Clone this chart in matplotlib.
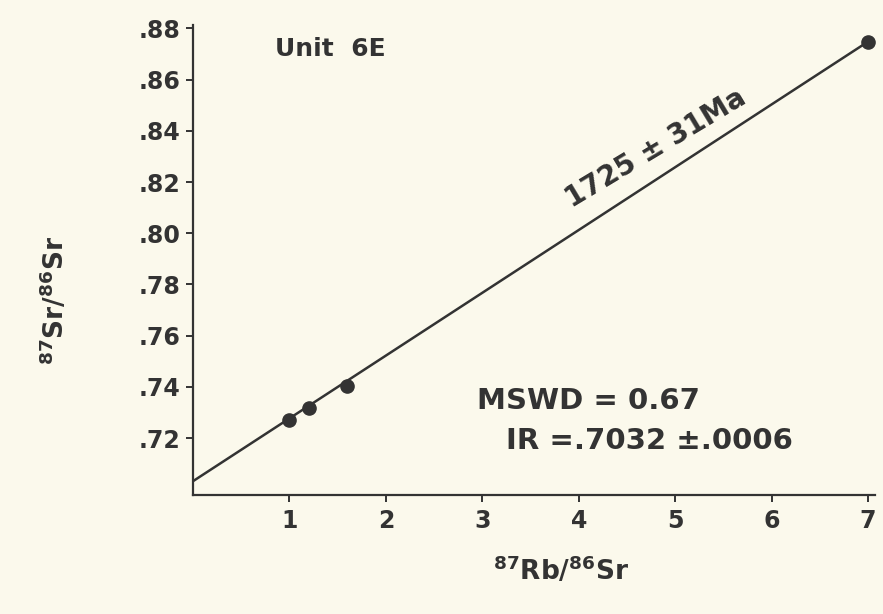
"""
Rb-Sr isochron for Unit 6E, redrawn from a scanned figure.
"""

import matplotlib
matplotlib.use("Agg")
import matplotlib.pyplot as plt
import matplotlib.ticker as mticker

# ── data ───────────────────────────────────
rb_sr = [1.0, 1.2, 1.6, 7.0]            # 87Rb/86Sr
sr_sr = [0.7270, 0.7318, 0.7403, 0.8748]  # 87Sr/86Sr

line_x = [0.0, 7.0]
line_y = [0.7032, 0.8748]

x_ticks = [1, 2, 3, 4, 5, 6, 7]
y_ticks = [0.72, 0.74, 0.76, 0.78, 0.80, 0.82, 0.84, 0.86, 0.88]

age_label = "1725 ± 31Ma"
mswd_label = "MSWD = 0.67"
ir_label = "IR =.7032 ±.0006"

# ── style ─────────────────
C_BG = "#fbf9ec"
C_INK = "#333333"

plt.rcParams["font.family"] = ["DejaVu Sans"]
plt.rcParams["font.weight"] = "bold"
plt.rcParams["mathtext.fontset"] = "dejavusans"

fig = plt.figure(figsize=(8.83, 6.14), dpi=100)
fig.patch.set_facecolor(C_BG)
ax = fig.add_axes([0.2186, 0.1938, 0.772, 0.765])
ax.set_facecolor(C_BG)

ax.plot(line_x, line_y, color=C_INK, linewidth=1.8, zorder=2)
ax.plot(rb_sr, sr_sr, "o", color=C_INK, markersize=9.5, zorder=3)

ax.set_xlim(0, 7.07)
ax.set_ylim(0.6978, 0.8812)
ax.set_xticks(x_ticks)
ax.set_yticks(y_ticks)
ax.yaxis.set_major_formatter(
    mticker.FuncFormatter(lambda v, _: f"{v:.2f}".lstrip("0")))

for side in ("top", "right"):
    ax.spines[side].set_visible(False)
for side in ("left", "bottom"):
    ax.spines[side].set_color(C_INK)
    ax.spines[side].set_linewidth(1.6)

ax.tick_params(axis="both", colors=C_INK, width=1.4, length=5,
               labelsize=17, direction="out")
ax.tick_params(axis="x", pad=5)
ax.tick_params(axis="y", pad=4)
for lab in ax.get_xticklabels() + ax.get_yticklabels():
    lab.set_fontweight("bold")

ax.set_xlabel(r"$\mathbf{^{87}Rb/^{86}Sr}$", fontsize=19, color=C_INK)
ax.set_ylabel(r"$\mathbf{^{87}Sr/^{86}Sr}$", fontsize=19, color=C_INK)
ax.xaxis.set_label_coords(0.54, -0.128)
ax.yaxis.set_label_coords(-0.18, 0.415)

ax.text(0.85, 0.872, "Unit  6E", fontsize=18, fontweight="bold",
        color=C_INK, ha="left", va="center")
ax.text(4.80, 0.8330, age_label, fontsize=20, fontweight="bold",
        color=C_INK, ha="center", va="center", rotation=31)
ax.text(2.95, 0.7345, mswd_label, fontsize=21, fontweight="bold",
        color=C_INK, ha="left", va="center")
ax.text(3.25, 0.7190, ir_label, fontsize=21, fontweight="bold",
        color=C_INK, ha="left", va="center")

fig.savefig("out.png", dpi=100, facecolor=C_BG)
